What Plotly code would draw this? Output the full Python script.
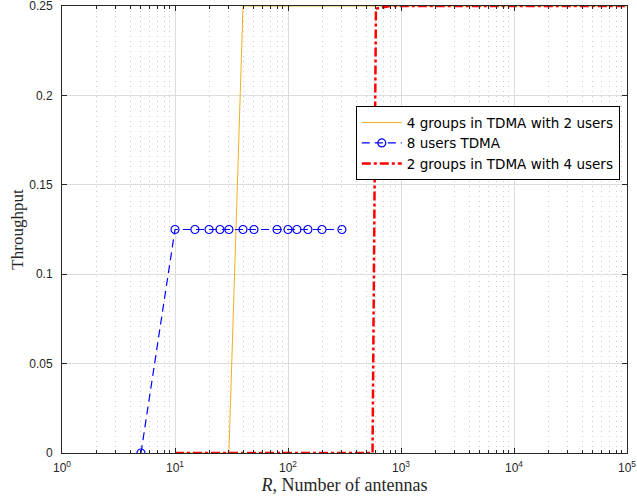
import plotly.graph_objects as go

# Data
blue_x = [5, 10, 15, 20, 25, 30, 40, 50, 80, 100, 120, 150, 200, 300]
blue_y = [0, 0.125, 0.125, 0.125, 0.125, 0.125, 0.125, 0.125, 0.125, 0.125, 0.125, 0.125, 0.125, 0.125]
orange_x = [10, 30, 40, 100000]
orange_y = [0, 0, 0.25, 0.25]
red_x = [10, 560, 600, 800, 100000]
red_y = [0, 0, 0.2485, 0.25, 0.25]

xtick_vals = [1, 10, 100, 1000, 10000, 100000]
xtick_text = ["10<sup>0</sup>", "10<sup>1</sup>", "10<sup>2</sup>", "10<sup>3</sup>", "10<sup>4</sup>", "10<sup>5</sup>"]
ytick_vals = [0, 0.05, 0.1, 0.15, 0.2, 0.25]
ytick_text = ["0", "0.05", "0.1", "0.15", "0.2", "0.25"]

fig = go.Figure()
fig.add_trace(go.Scatter(x=orange_x, y=orange_y, mode="lines",
                         line=dict(color="#EDB120", width=1),
                         name="4 groups in TDMA with 2 users"))
fig.add_trace(go.Scatter(x=blue_x, y=blue_y, mode="lines+markers",
                         line=dict(color="#0000FF", width=1.2, dash="8px,5px"),
                         marker=dict(symbol="circle-open", size=8, color="#0000FF", line=dict(width=1.2)),
                         name="8 users TDMA"))
fig.add_trace(go.Scatter(x=red_x, y=red_y, mode="lines",
                         line=dict(color="#FF0000", width=2.5, dash="9px,3px,3px,3px"),
                         name="2 groups in TDMA with 4 users"))

fig.update_layout(
    width=637, height=504,
    margin=dict(l=62, r=10, t=6, b=51),
    plot_bgcolor="white", paper_bgcolor="white",
    font=dict(family="Liberation Sans, Arial", size=12, color="#262626"),
    legend=dict(x=0.52, y=0.776, xanchor="left", yanchor="top",
                bgcolor="white", bordercolor="black", borderwidth=1,
                font=dict(family="DejaVu Sans", size=13.5, color="black"), tracegroupgap=0,
                itemwidth=40),
    showlegend=True,
)
fig.update_xaxes(
    type="log", range=[0, 5], automargin=False,
    tickvals=xtick_vals, ticktext=xtick_text,
    showline=True, linecolor="#262626", linewidth=1, mirror="ticks",
    ticks="inside", ticklen=5, tickcolor="#262626",
    ticklabelstandoff=4,
    showgrid=True, gridcolor="#DCDCDC", gridwidth=1,
    minor=dict(dtick="D1", showgrid=True, gridcolor="#CCCCCC", griddash="1px,4px",
               ticks="inside", ticklen=3, tickcolor="#262626"),
    zeroline=False,
    title=dict(text="<i>R</i>, Number of antennas",
               font=dict(family="Liberation Serif, Times New Roman", size=18, color="#262626"),
               standoff=0),
)
fig.update_yaxes(
    range=[0, 0.25], automargin=False,
    tickvals=ytick_vals, ticktext=ytick_text,
    showline=True, linecolor="#262626", linewidth=1, mirror="ticks",
    ticks="inside", ticklen=5, tickcolor="#262626",
    ticklabelstandoff=6, ticklabeloverflow="allow",
    showgrid=True, gridcolor="#DCDCDC", gridwidth=1,
    zeroline=False,
    title=dict(text="Throughput",
               font=dict(family="Liberation Serif, Times New Roman", size=17, color="#262626"),
               standoff=1),
)

fig.write_html("out.html")
